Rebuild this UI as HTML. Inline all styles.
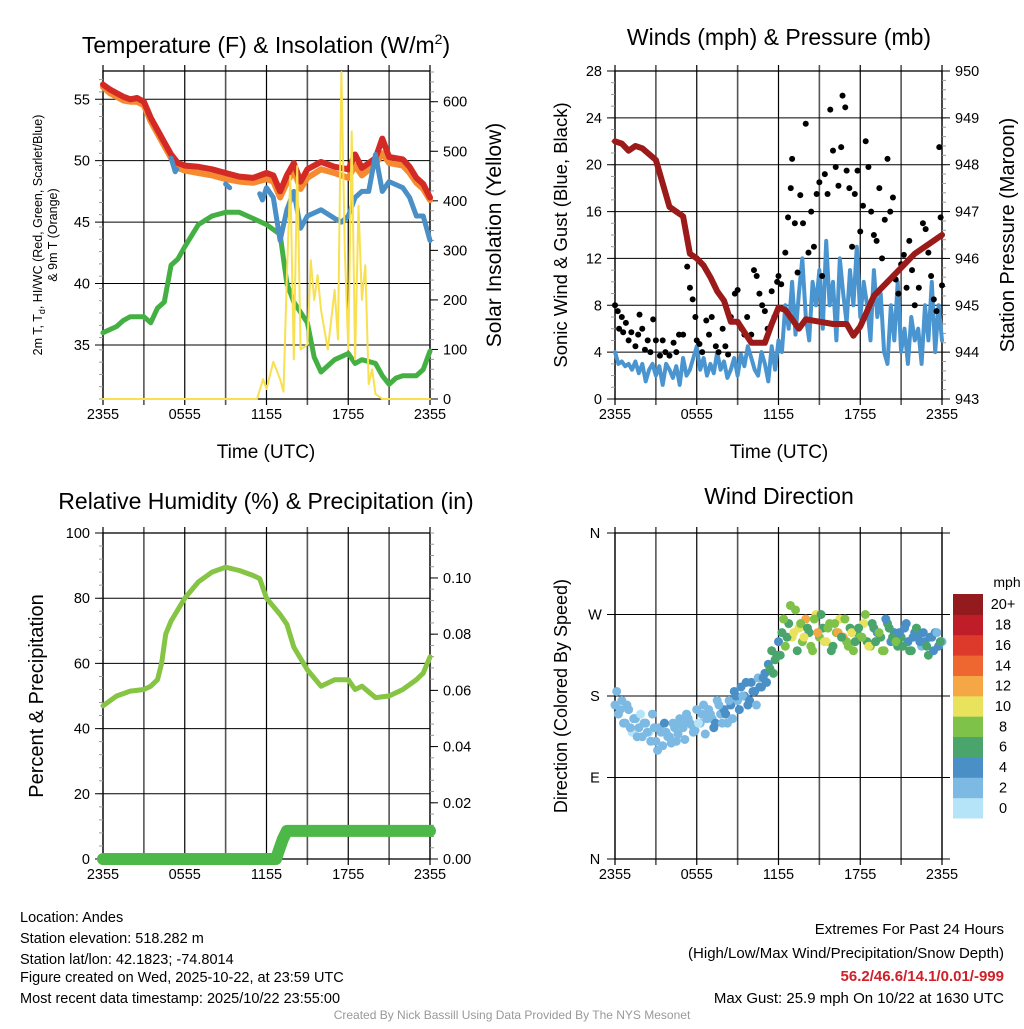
<!DOCTYPE html>
<html><head><meta charset="utf-8"><style>
body{margin:0;background:#fff;width:1024px;height:1024px;overflow:hidden}
svg{font-family:"Liberation Sans",sans-serif}
</style></head><body>
<svg id="s" width="1024" height="1024" viewBox="0 0 1024 1024">
<text x="266" y="53" font-size="23" text-anchor="middle">Temperature (F) &amp; Insolation (W/m<tspan dy="-9" font-size="14">2</tspan><tspan dy="9">)</tspan></text>
<text x="779" y="45" font-size="23" text-anchor="middle">Winds (mph) &amp; Pressure (mb)</text>
<text x="266" y="509" font-size="23" text-anchor="middle">Relative Humidity (%) &amp; Precipitation (in)</text>
<text x="779" y="504" font-size="23" text-anchor="middle">Wind Direction</text>
<text x="42" y="235" font-size="12.5" text-anchor="middle" transform="rotate(-90 42 235)">2m T, T<tspan font-size="9" dy="3">d</tspan><tspan dy="-3">, HI/WC (Red, Green, Scarlet/Blue)</tspan></text>
<text x="57" y="235" font-size="12.5" text-anchor="middle" transform="rotate(-90 57 235)">&amp; 9m T (Orange)</text>
<text x="501" y="235" font-size="21" text-anchor="middle" transform="rotate(-90 501 235)">Solar Insolation (Yellow)</text>
<text x="567" y="235" font-size="18.5" text-anchor="middle" transform="rotate(-90 567 235)">Sonic Wind &amp; Gust (Blue, Black)</text>
<text x="1014" y="235" font-size="20" text-anchor="middle" transform="rotate(-90 1014 235)">Station Pressure (Maroon)</text>
<text x="43" y="696" font-size="20" text-anchor="middle" transform="rotate(-90 43 696)">Percent &amp; Precipitation</text>
<text x="567" y="696" font-size="18" text-anchor="middle" transform="rotate(-90 567 696)">Direction (Colored By Speed)</text>
<text x="266" y="458" font-size="19" text-anchor="middle">Time (UTC)</text>
<text x="779" y="458" font-size="19" text-anchor="middle">Time (UTC)</text>
<g font-size="14.5">
<text x="20" y="922">Location: Andes</text>
<text x="20" y="943">Station elevation: 518.282 m</text>
<text x="20" y="964">Station lat/lon: 42.1823; -74.8014</text>
<text x="20" y="982">Figure created on Wed, 2025-10-22, at 23:59 UTC</text>
<text x="20" y="1003">Most recent data timestamp: 2025/10/22 23:55:00</text>
</g>
<g font-size="15" text-anchor="end">
<text x="1004" y="934">Extremes For Past 24 Hours</text>
<text x="1004" y="958">(High/Low/Max Wind/Precipitation/Snow Depth)</text>
<text x="1004" y="981" fill="#d0202a" font-weight="bold">56.2/46.6/14.1/0.01/-999</text>
<text x="1004" y="1003">Max Gust: 25.9 mph On 10/22 at 1630 UTC</text>
</g>
<text x="512" y="1019" font-size="12" fill="#999" text-anchor="middle">Created By Nick Bassill Using Data Provided By The NYS Mesonet</text>
</svg>
<script>
const tempHours=[0,0.5,1,1.5,2,2.5,3,3.5,4,4.5,5,5.5,6,7,8,9,10,11,12,12.5,13,13.5,14,14.5,15,16,17,18,18.5,19,20,20.5,21,22,22.5,23,23.5,24];
const tempRed=[56.2,55.8,55.5,55.2,55.0,55.1,54.8,53.5,52.5,51.5,50.5,49.8,49.6,49.5,49.3,49.0,48.7,48.6,49.0,48.8,47.5,48.8,49.8,48.3,49.3,49.9,49.5,49.3,50.5,49.4,50.2,51.8,50.3,50.1,49.5,48.6,48.1,47.0];
const temp9m=[56.0,55.5,55.2,54.9,54.8,54.8,54.5,53.2,52.2,51.2,50.2,49.4,49.2,49.0,48.8,48.5,48.3,48.2,48.5,48.3,47.0,48.2,49.2,47.7,48.6,49.3,49.0,48.6,49.6,48.8,49.7,50.6,49.8,49.6,49.0,48.2,47.7,46.8];
const hiHours=[5,5.3,5.4,null,9,9.3,null,11.5,11.7,12,12.5,13,13.5,14,14.5,15,16,17,17.5,18,18.5,19,19.5,20,20.5,21,22,22.5,23,23.5,24];
const hiVals=[50.2,49.1,49.3,null,48.1,47.8,null,47.3,46.8,47.8,47.0,43.5,46.0,47.5,44.5,45.5,46.0,45.3,45.0,45.5,47.0,47.5,47.5,50.5,47.5,48.3,47.8,47.0,45.5,45.5,43.5];
const dewHours=[0,1,1.5,2,3,3.5,4,4.5,5,5.5,6,7,8,9,10,11,12,13,13.5,14,15,15.5,16,17,18,18.5,19,20,20.5,21,21.5,22,23,23.5,24];
const dewVals=[36,36.5,37,37.3,37.3,36.8,38,38.5,41.5,42,43,44.8,45.5,45.8,45.8,45.3,44.8,44,40,38.5,36.8,34,32.8,33.8,34.3,33.5,33.8,33.5,32.5,31.8,32.3,32.5,32.5,33,34.5];
const solarHours=[0,11.3,11.75,12,12.5,13,13.25,13.5,13.75,14,14.25,14.5,15,15.25,15.5,15.75,16,16.5,17,17.25,17.5,17.75,18,18.25,18.5,18.75,19,19.25,19.5,19.75,20,20.5,24];
const solarVals=[0,0,40,20,75,40,15,250,450,80,470,100,110,280,200,250,180,100,220,120,660,300,100,540,80,390,200,270,30,60,10,0,0];
const presHours=[0,0.5,1,1.5,2,3,3.5,4,4.5,5,5.5,6,6.5,7,7.5,8,8.5,9,10,11,11.5,12,12.5,13,13.5,14,15,16,17,17.5,18,19,20,21,22,23,24];
const presVals=[948.5,948.45,948.3,948.4,948.35,948.1,947.6,947.1,947.0,946.9,946.1,946.0,945.85,945.6,945.3,945.1,944.65,944.65,944.2,944.2,944.6,944.95,944.9,944.7,944.5,944.7,944.65,944.6,944.6,944.35,944.55,945.2,945.5,945.8,946.1,946.3,946.5];
const windVals=[4,3,3.2,2.8,3,2.5,3.2,2.2,3,1.5,2.5,3,2,2.8,1.2,3,2.5,1.8,2.8,1.2,3.5,2,2.5,3.5,
4.5,2.5,3.5,2,3,2.2,4,2.5,3.2,1.8,2.5,3.5,2,3.8,2.8,4.5,3.5,2.5,2,4,3,1.5,4.5,2.5,
5,4,8,6,10,5.5,9,12,7,5,10,8,11,6,13.5,8,10,5,12,9,6.5,11,8,13,
7,10,8,5,11,7,9,4,3,8,5,10,4,6,3,7,5,6,3,8,5,10,4,8,5];
const windStepHours=0.25;
const gustHours=[0,0.2,0.3,0.5,0.6,0.8,1,1.2,1.5,1.7,1.8,2,2.2,2.4,2.6,2.8,3,3.3,3.5,3.7,4,4.3,4.5,4.7,5,5.3,5.5,5.7,5.9,6,6.2,6.4,6.7,6.9,7.1,7.4,7.6,7.9,8.1,8.3,8.5,8.8,9,9.3,9.5,9.7,10,10.2,10.4,10.6,10.8,11,11.2,11.5,11.7,11.9,12,12.2,12.5,12.7,12.9,13,13.2,13.4,13.6,13.8,14,14.2,14.4,14.6,14.8,15,15.2,15.4,15.6,15.8,16,16.2,16.4,16.6,16.7,16.9,17,17.2,17.4,17.6,17.8,18,18.2,18.4,18.6,18.8,19,19.2,19.4,19.6,19.8,20,20.2,20.4,20.6,20.8,21,21.2,21.4,21.6,21.8,22,22.3,22.6,22.8,23,23.2,23.4,23.6,23.8,23.9,24];
const gustVals=[8,7.5,6,7,5.7,6.5,5,5.7,4.5,5.5,7.2,6,4.2,5,4,6.8,5,3.7,5,4,3.7,4.8,4,5.5,5.5,11.3,9.5,8.5,7,5,4.7,4,6.7,5.5,7,4.5,4,6,4.5,3.8,7,9,9.3,6,5.5,7,5.5,11,10.5,9,8,7.5,6,9.2,7,10,10.5,9.8,12.5,15.5,18,20.5,15,10.8,17.4,15,23.5,12.5,16,13,17.5,18.5,10.5,19.2,17.5,24.7,21.2,19.8,18.2,21.5,25.9,24.9,19.5,18,13,17.5,19.5,14.3,16.5,22,19.8,16,14,13.5,18,12,15.3,20.5,16,17.2,10.2,9,11.5,12.3,9.5,13.5,11,8,9.5,15,14.5,12.5,10.5,8.5,7.5,21.5,15.5,9.7];
const rhHours=[0,1,2,3,3.5,4,4.3,4.6,5,6,7,8,9,10,11,11.5,12,13,13.5,14,15,16,17,18,18.5,19,20,21,22,23,23.5,24];
const rhVals=[47,50,51.5,52,53,55,60,69,73,80,85,88,89.5,88.5,87,86,80,75,72,65,58,53,55,55,52,53,49.5,50,52,55,57,62];
const precipHours=[0,12.7,12.9,13.2,13.5,24];
const precipVals=[0,0,0.003,0.007,0.01,0.01];
const dirSpeedThresholds=[0,2,4,6,8,10,12,14,16,18,20];
const dirValsA=[170,160,175,150,165,140,155,145,135,150,140,160,130,145,125,140,135,150,130,155,145,160,150,140,165,150,170,155,160,145,175,160,165,150,170,185,175,190,180,170,195,185,200,190,205,215,230,220,240,250,235,260,245,275,255,240,265,250,230,270,245,255,240,260,235,250,265,245,240,255,230,250,245,260,240,235,255,250,245,230,260,240,250,235,245,255,240,230,250,245,235,240,225,245,250,235,240];
const dirSpeedsA=[2,3,2,2,3,1,2,3,2,2,1,2,3,2,2,3,2,2,3,2,2,3,2,2,3,3,2,3,3,4,3,3,4,3,4,4,3,4,5,4,4,5,3,4,5,5,6,7,5,6,8,7,10,9,11,8,12,7,9,10,8,6,11,9,7,8,10,12,9,7,8,6,9,10,7,8,6,5,7,8,6,5,4,6,7,5,4,6,5,4,3,5,6,4,5,4,3];
const dirValsB=[185,165,150,170,145,155,135,160,150,140,130,145,120,140,150,135,128,145,138,150,132,155,148,142,150,160,138,165,155,150,170,150,160,175,155,180,165,180,195,175,185,170,190,200,195,210,205,225,225,265,245,280,250,230,260,245,255,235,265,250,270,240,255,230,260,250,245,265,235,250,240,255,245,270,235,260,240,250,230,265,255,245,240,250,235,260,230,245,255,240,250,235,245,230,250,240];
const dirSpeedsB=[3,2,2,3,2,3,2,1,2,3,2,2,3,2,4,2,3,2,2,3,2,3,2,2,1,3,2,3,2,4,3,2,4,3,3,5,4,3,4,4,5,3,4,5,4,6,7,6,6,9,7,8,10,7,8,11,6,9,8,12,7,10,9,6,8,13,7,9,8,10,6,7,9,8,11,7,6,8,9,5,7,6,8,4,6,5,7,4,6,5,4,6,5,4,3,6];
const barLabels=["0","2","4","6","8","10","12","14","16","18","20+"];
const barColors=["#b5e4f8","#7cb9e3","#4a8fc6","#49a56c","#7fc24a","#e8e25c","#f5a745","#ee6630","#dd3a2c","#bf1d28","#931b1e"];

const NS="http://www.w3.org/2000/svg";
const svg=document.getElementById('s');
function mk(tag,attrs,parent){const e=document.createElementNS(NS,tag);for(const k in attrs)e.setAttribute(k,attrs[k]);(parent||svg).appendChild(e);return e;}
const PL={tl:[103,71,430,399],tr:[615,71,942,399],bl:[103,533,430,859],br:[615,533,942,859]};
function xs(p,h){const b=PL[p];return b[0]+h/24*(b[2]-b[0]);}
function ys(p,v,lo,hi){const b=PL[p];return b[3]-(v-lo)/(hi-lo)*(b[3]-b[1]);}
function frame(p){
  const b=PL[p];
  const g=mk('g',{});
  
  
  for(let i=0;i<=8;i++){const x=b[0]+i*(b[2]-b[0])/8;mk('line',{x1:x,y1:b[1]-6,x2:x,y2:b[3]+6,stroke:i%2?'#555':'#000','stroke-width':i%2?1.6:1.2},g);}
  const lbl=["2355","0555","1155","1755","2355"];
  const ly=b[3]+20;
  lbl.forEach((t,i)=>{const e=mk('text',{x:b[0]+i*(b[2]-b[0])/4,y:ly,'font-size':14.5,'text-anchor':'middle'},g);e.textContent=t;
    
    });
  mk('rect',{x:b[0],y:b[1],width:b[2]-b[0],height:b[3]-b[1],fill:'none',stroke:'#000','stroke-width':1.3},g);
  return g;
}
function yaxis(p,lo,hi,major,minor,side,fmt){
  const b=PL[p];const g=mk('g',{});
  
  
  const x0=side=='l'?b[0]:b[2];const d=side=='l'?-1:1;
  for(let v=lo;v<=hi+1e-9;v+=minor){const y=ys(p,v,lo,hi);mk('line',{x1:x0,y1:y,x2:x0+d*4,y2:y,stroke:'#999','stroke-width':1},g);}
  for(const v of major){const y=ys(p,v,lo,hi);
    if(side=='l')mk('line',{x1:x0-8,y1:y,x2:b[2],y2:y,stroke:'#000','stroke-width':1},g);
    else mk('line',{x1:x0,y1:y,x2:x0+8,y2:y,stroke:'#000','stroke-width':1},g);
    const t=mk('text',{x:x0+d*13,y:y+5,'font-size':14.5,'text-anchor':side=='l'?'end':'start'},g);t.textContent=fmt(v);
    
    }
}
function line(p,hs,vs,lo,hi,color,w,name){
  let d='',pen=false;
  for(let i=0;i<hs.length;i++){if(hs[i]===null||vs[i]===null){pen=false;continue;}
    d+=(pen?'L':'M')+xs(p,hs[i]).toFixed(1)+' '+ys(p,vs[i],lo,hi).toFixed(1)+' ';pen=true;}
  const e=mk('path',{d:d,fill:'none',stroke:color,'stroke-width':w,'stroke-linejoin':'round','stroke-linecap':'round'});
  
  
}
// TL
frame('tl');
yaxis('tl',30.6,57.3,[35,40,45,50,55],1,'l',v=>v);
yaxis('tl',0,662,[0,100,200,300,400,500,600],20,'r',v=>v);
line('tl',dewHours,dewVals,30.6,57.3,'#44b044',5,'dewpoint-line');
line('tl',tempHours,temp9m,30.6,57.3,'#f58a30',6,'temp-9m-line');
line('tl',tempHours,tempRed,30.6,57.3,'#d42a25',6,'temp-2m-line');
line('tl',hiHours,hiVals,30.6,57.3,'#4a8fc6',5,'heat-index-wind-chill-line');
line('tl',solarHours,solarVals,0,662,'#f8e050',2,'solar-insolation-line');
// TR
frame('tr');
yaxis('tr',0,28,[0,4,8,12,16,20,24,28],1,'l',v=>v);
yaxis('tr',943,950,[943,944,945,946,947,948,949,950],0.2,'r',v=>Math.round(v));
line('tr',windVals.map((v,i)=>i*windStepHours),windVals,0,28,'#4a95d0',4,'sonic-wind-line');
for(let i=0;i<gustHours.length;i++){const c=mk('circle',{cx:xs('tr',gustHours[i]),cy:ys('tr',gustVals[i],0,28),r:3,fill:'#000'});
  
  }
line('tr',presHours,presVals,943,950,'#9b1a1a',6,'pressure-line');
// BL
frame('bl');
yaxis('bl',0,100,[0,20,40,60,80,100],4,'l',v=>v);
yaxis('bl',0,0.116,[0,0.02,0.04,0.06,0.08,0.10],0.004,'r',v=>v.toFixed(2));
line('bl',rhHours,rhVals,0,100,'#86c443',5,'rh-line');
line('bl',precipHours,precipVals,0,0.116,'#4cb848',12,'precip-line');
// BR
(function(){const p='br';const b=PL[p];const g=frame(p);
  const labs=['N','E','S','W','N'];
  labs.forEach((t,i)=>{const y=ys(p,i*90,0,360);mk('line',{x1:b[0]-8,y1:y,x2:b[2]+8,y2:y,stroke:'#000','stroke-width':1},g);
    const e=mk('text',{x:b[0]-20,y:y+5,'font-size':14.5,'text-anchor':'middle'},g);e.textContent=t;
    
    });
  function pts(vals,speeds,off){
    for(let i=0;i<vals.length;i++){let k=0;for(let j=0;j<dirSpeedThresholds.length;j++)if(speeds[i]>=dirSpeedThresholds[j])k=j;
      const c=mk('circle',{cx:xs(p,i*0.25+off),cy:ys(p,vals[i],0,360),r:4.5,fill:barColors[k]});
      
      }
  }
  pts(dirValsA,dirSpeedsA,0);
  pts(dirValsB,dirSpeedsB,0.125);
  const cg=mk('g',{});
  
  
  const top=594,bot=818,h=(bot-top)/11;
  for(let i=0;i<11;i++){const y=bot-(i+1)*h;mk('rect',{x:953,y:y,width:30,height:h+0.5,fill:barColors[i]},cg);
    const t=mk('text',{x:1003,y:y+h/2+5,'font-size':14.5,'text-anchor':'middle'},cg);t.textContent=barLabels[i];}
  const m=mk('text',{x:1007,y:587,'font-size':14,'text-anchor':'middle'},cg);m.textContent='mph';
})();
</script>
</body></html>
